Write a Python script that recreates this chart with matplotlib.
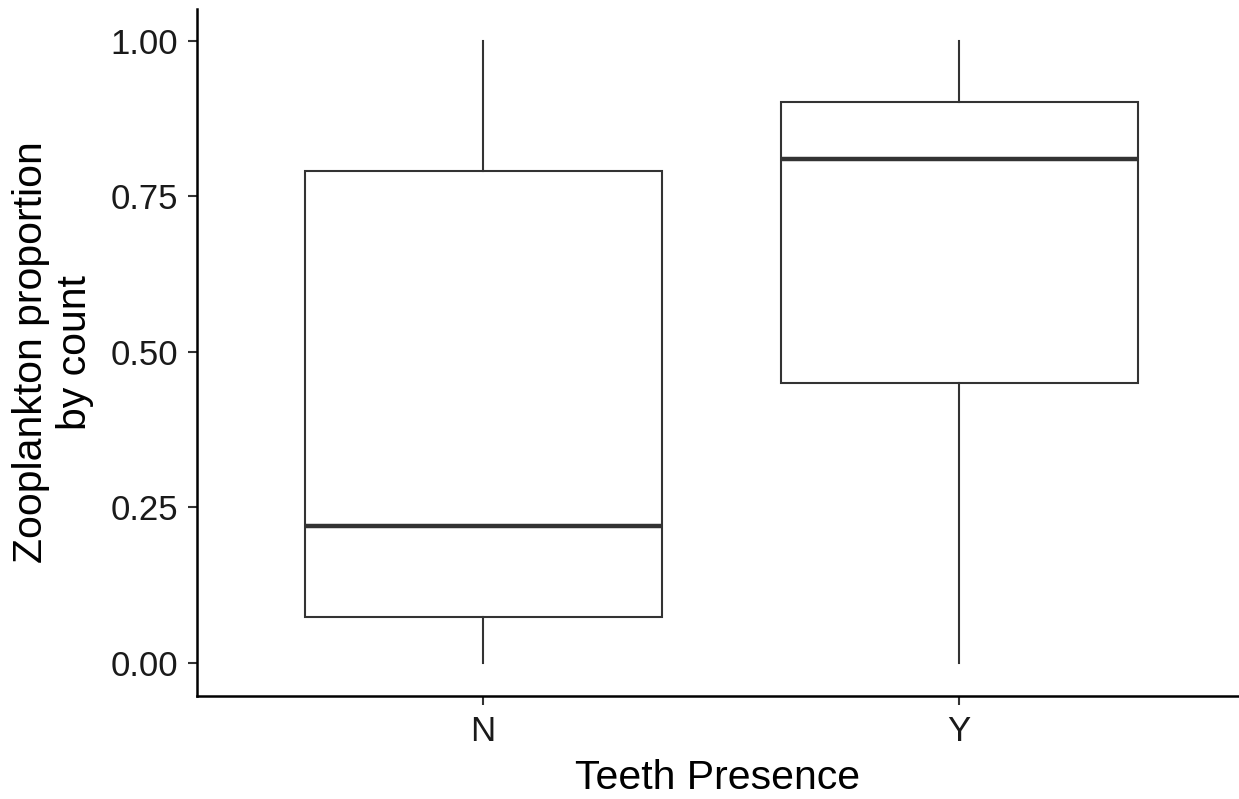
import matplotlib.pyplot as plt

plt.rcParams['font.family'] = ['Liberation Sans', 'DejaVu Sans']

groups = ['N', 'Y']
whislo = [0.0, 0.0]
q1 = [0.074, 0.449]
med = [0.220, 0.810]
q3 = [0.791, 0.902]
whishi = [1.0, 1.0]

stats = []
for i, g in enumerate(groups):
    stats.append({'label': g, 'whislo': whislo[i], 'q1': q1[i], 'med': med[i],
                  'q3': q3[i], 'whishi': whishi[i], 'fliers': []})

fig = plt.figure(figsize=(12.39, 7.99), dpi=100)
ax = fig.add_axes([0.159, 0.129, 0.841, 0.86])

line = '#333333'
ax.bxp(stats, positions=[1, 2], widths=0.75, showcaps=False, patch_artist=True,
       boxprops=dict(facecolor='white', edgecolor=line, linewidth=1.5),
       medianprops=dict(color=line, linewidth=3.2, solid_capstyle='butt'),
       whiskerprops=dict(color=line, linewidth=1.5))

ax.set_xlim(0.399, 2.588)
ax.set_ylim(-0.053, 1.051)
ax.set_yticks([0, 0.25, 0.5, 0.75, 1.0])
ax.set_yticklabels(['0.00', '0.25', '0.50', '0.75', '1.00'])
ax.set_xticks([1, 2])
ax.set_xticklabels(groups)

for s in ['top', 'right']:
    ax.spines[s].set_visible(False)
for s in ['left', 'bottom']:
    ax.spines[s].set_linewidth(1.8)
    ax.spines[s].set_color('black')

ax.tick_params(axis='both', labelsize=25, colors='#333333', labelcolor='#1a1a1a',
               width=1.5, length=6.5, pad=7)
ax.set_xlabel('Teeth Presence', fontsize=29.5, labelpad=8)
ax.set_ylabel('Zooplankton proportion\nby count', fontsize=29.5, labelpad=12)

fig.savefig('out.png', dpi=100)
